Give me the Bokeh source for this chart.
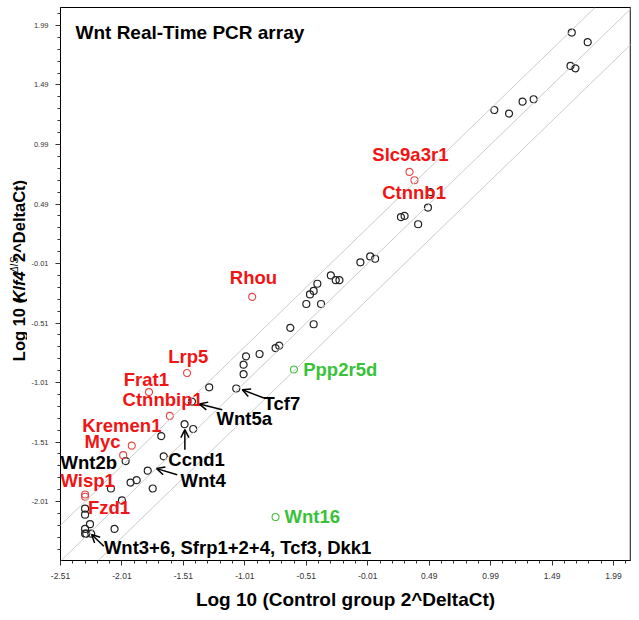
import math
import numpy as np
from bokeh.plotting import figure
from bokeh.layouts import row
from bokeh.models import FixedTicker, Label, Arrow, OpenHead, Slope, Span, Range1d
from bokeh.core.properties import value
from bokeh.embed import file_html
from bokeh.resources import INLINE

FONT = "Liberation Sans"

# ---- data: log10(2^DeltaCt), control (x) vs Klf4 (y) ----
ns_x = [1.65, 1.78, 1.64, 1.68, 1.02, 1.14, 1.25, 1.34, 0.50, 0.48, 0.26, 0.29, 0.40,
        -0.07, 0.01, 0.05, -0.31, -0.27, -0.24, -0.39, -0.42, -0.45, -0.48, -0.51,
        -0.64, -0.45, -0.73, -0.76, -0.89, -1.00, -1.02, -1.02, -1.08, -1.30, -1.44,
        -1.50, -1.43, -1.69, -1.67, -1.98, -1.80, -1.94, -1.89, -1.76, -2.10, -2.01,
        -2.31, -2.31, -2.31, -2.27, -2.31, -2.30, -2.26, -2.07]
ns_y = [1.93, 1.85, 1.65, 1.63, 1.28, 1.25, 1.35, 1.37, 0.59, 0.46, 0.38, 0.39, 0.32,
        0.00, 0.05, 0.03, -0.11, -0.15, -0.15, -0.35, -0.18, -0.24, -0.27, -0.35,
        -0.55, -0.52, -0.70, -0.72, -0.77, -0.79, -0.86, -0.94, -1.06, -1.05, -1.17,
        -1.36, -1.40, -1.46, -1.63, -1.67, -1.75, -1.85, -1.83, -1.90, -1.90, -2.00,
        -2.07, -2.12, -2.24, -2.20, -2.28, -2.28, -2.28, -2.24]

up_genes = ["Slc9a3r1", "Ctnnb1", "Rhou", "Lrp5", "Frat1", "Ctnnbip1", "Myc", "Kremen1", "Wisp1", "Fzd1"]
up_x = [0.33, 0.37, -0.95, -1.48, -1.79, -1.62, -1.93, -2.00, -2.31, -2.31]
up_y = [0.76, 0.69, -0.29, -0.93, -1.09, -1.29, -1.54, -1.62, -1.95, -1.97]

down_genes = ["Ppp2r5d", "Wnt16"]
down_x = [-0.61, -0.76]
down_y = [-0.90, -2.14]

fold_lines = [0.0, math.log10(2), -math.log10(2)]

tick_values = [-2.51, -2.01, -1.51, -1.01, -0.51, -0.01, 0.49, 0.99, 1.49, 1.99]
tick_labels = ["-2.51", "-2.01", "-1.51", "-1.01", "-0.51", "-0.01", "0.49", "0.99", "1.49", "1.99"]
minor_values = [round(v, 2) for v in np.arange(-2.51, 2.10, 0.1)]

RED_TXT = "#f01414"
RED_PT = "#e84545"
GREEN = "#38c238"

# annotation texts: (text, x, y, color)
gene_labels = [
    ("Slc9a3r1", 0.027, 0.908, RED_TXT),
    ("Ctnnb1", 0.108, 0.590, RED_TXT),
    ("Rhou", -1.132, -0.126, RED_TXT),
    ("Lrp5", -1.633, -0.792, RED_TXT),
    ("Frat1", -1.995, -0.981, RED_TXT),
    ("Ctnnbip1", -2.005, -1.149, RED_TXT),
    ("Kremen1", -2.333, -1.373, RED_TXT),
    ("Myc", -2.314, -1.509, RED_TXT),
    ("Wnt2b", -2.51, -1.680, "black"),
    ("Wisp1", -2.51, -1.831, RED_TXT),
    ("Fzd1", -2.287, -2.058, RED_TXT),
    ("Ppp2r5d", -0.535, -0.897, GREEN),
    ("Wnt16", -0.687, -2.133, GREEN),
    ("Tcf7", -0.858, -1.188, "black"),
    ("Wnt5a", -1.240, -1.316, "black"),
    ("Ccnd1", -1.633, -1.658, "black"),
    ("Wnt4", -1.533, -1.834, "black"),
    ("Wnt3+6, Sfrp1+2+4, Tcf3, Dkk1", -2.157, -2.393, "black"),
]
# arrows: (x_start, y_start, x_end, y_end)
arrows = [
    (-0.855, -1.140, -1.031, -1.071),
    (-1.194, -1.238, -1.379, -1.191),
    (-1.498, -1.574, -1.498, -1.406),
    (-1.560, -1.784, -1.728, -1.733),
    (-2.157, -2.385, -2.257, -2.287),
]

STRIP_W = 27
X_END = 2.128
p = figure(width=631 - STRIP_W, height=612, output_backend="svg", toolbar_location=None,
           x_range=Range1d(-2.51, X_END), y_range=Range1d(-2.505, 2.141),
           min_border_left=60 - STRIP_W, min_border_right=1, min_border_top=7, min_border_bottom=51)
p.grid.visible = False
p.outline_line_color = "black"
p.outline_line_width = 1
p.background_fill_color = "white"
p.border_fill_color = "white"

for ax in (p.xaxis[0], p.yaxis[0]):
    ax.ticker = FixedTicker(ticks=tick_values, minor_ticks=minor_values)
    ax.major_label_overrides = {v: s for v, s in zip(tick_values, tick_labels)}
    ax.major_tick_out = 5
    ax.major_tick_in = 0
    ax.minor_tick_out = 3
    ax.minor_tick_in = 0
    ax.axis_line_color = "black"
    ax.major_tick_line_color = "#333333"
    ax.minor_tick_line_color = "#333333"
    ax.major_label_text_color = "#333333"
    ax.major_label_text_font = FONT

p.xaxis.major_label_text_font_size = "8.5px"
p.yaxis.major_label_text_font_size = "7.5px"
p.xaxis.major_label_standoff = 7
p.yaxis.major_label_standoff = 7

p.xaxis.axis_label = "Log 10 (Control group 2^DeltaCt)"
p.xaxis.axis_label_text_font = FONT
p.xaxis.axis_label_text_font_style = "bold"
p.xaxis.axis_label_text_font_size = "19px"
p.xaxis.axis_label_text_color = "black"
p.xaxis.axis_label_standoff = 7

# right edge
p.add_layout(Span(location=X_END, dimension="height", line_color="#8a8a8a", line_width=2))

for b in fold_lines:
    p.add_layout(Slope(gradient=1, y_intercept=b, line_color="#cccccc", line_width=1))

p.scatter(ns_x, ns_y, size=7, fill_color=None, line_color="#222222", line_width=1.2)
p.scatter(up_x, up_y, size=7, fill_color=None, line_color=RED_PT, line_width=1.1)
p.scatter(down_x, down_y, size=7, fill_color=None, line_color=GREEN, line_width=1.1)

for t, x, y, c in gene_labels:
    p.add_layout(Label(x=x, y=y, text=t, text_color=c, text_font=FONT, text_font_style="bold",
                       text_font_size="18.5px", text_align="left", text_baseline="middle"))

for xs, ys, xe, ye in arrows:
    p.add_layout(Arrow(x_start=xs, y_start=ys, x_end=xe, y_end=ye, line_color="black", line_width=1.5,
                       end=OpenHead(size=8, line_color="black", line_width=1.5)))

# title inside plot
p.add_layout(Label(x=-2.388, y=1.931, text="Wnt Real-Time PCR array", text_font=FONT,
                   text_font_style="bold", text_font_size="19px", text_color="black",
                   text_align="left", text_baseline="middle"))

# ---- y axis label strip (mixed styles), pixel coordinates of the strip ----
yl = figure(width=STRIP_W, height=612, output_backend="svg", toolbar_location=None,
            x_range=Range1d(0, STRIP_W), y_range=Range1d(612, 0),
            x_axis_type=None, y_axis_type=None,
            min_border_left=0, min_border_right=0, min_border_top=0, min_border_bottom=0)
yl.grid.visible = False
yl.outline_line_color = None
yl.background_fill_color = "white"
yl.border_fill_color = "white"

# (text, x centre, y centre, style, size)
ylab = [
    ("Log 10 (", 18.0, 356.4, "bold", "16.5px"),
    ("Klf4", 18.0, 309.1, "bold italic", "16.5px"),
    ("ΔIS", 13.5, 285.0, "italic", "10px"),
    (" 2^DeltaCt)", 18.0, 233.7, "bold", "16.5px"),
]
for t, x, y, st, fs in ylab:
    yl.text(x=[x], y=[y], text=[t], angle=math.pi / 2, text_font=value(FONT),
            text_font_style=st, text_font_size=fs, text_color="black",
            text_align="center", text_baseline="middle")

layout = row(yl, p, spacing=0)
open("out.html", "w").write(file_html(layout, INLINE))
